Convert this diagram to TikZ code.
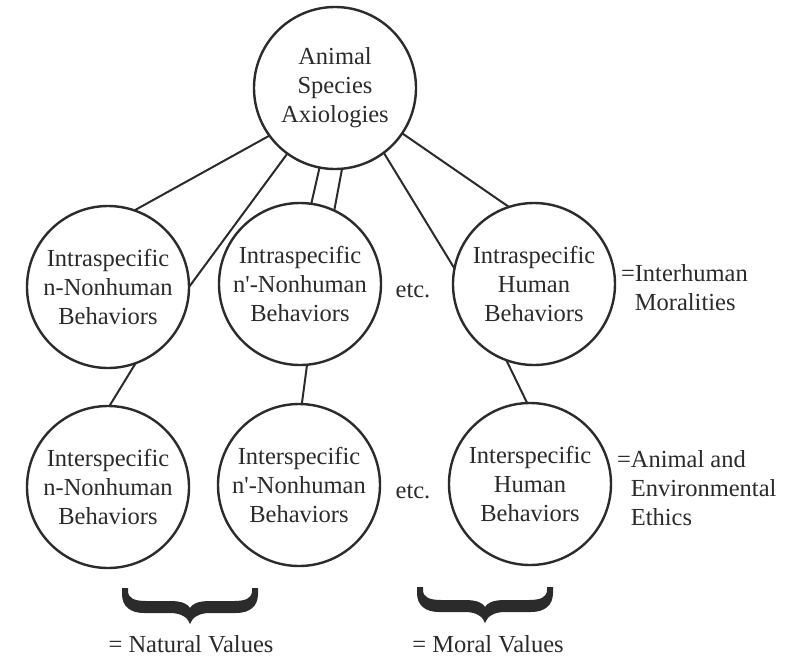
\documentclass[tikz,border=0pt]{standalone}
\usepackage{fontspec}
\setmainfont{Liberation Serif}
\definecolor{ink}{HTML}{2B2B2B}
\tikzset{
  bracepic/.pic={
    \fill[ink] (0,0) -- (0,6) .. controls (0,18) and (8,25) .. (22,25) -- (48,25)
      .. controls (60,25) and (66,30) .. (68,36)
      .. controls (70,30) and (76,25) .. (88,25) -- (114,25)
      .. controls (128,25) and (136,18) .. (136,6) -- (136,0) -- (130,0) -- (130,3)
      .. controls (130,10) and (124,13) .. (112,13) -- (88,13)
      .. controls (76,13) and (70,16) .. (68,20)
      .. controls (66,16) and (60,13) .. (48,13) -- (24,13)
      .. controls (12,13) and (6,10) .. (6,3) -- (6,0) -- cycle;
  }
}
\begin{document}
\begin{tikzpicture}[x=1pt,y=-1pt,
  bubble/.style={circle,draw=ink,line width=2.4pt,minimum size=162pt,inner sep=0pt,outer sep=0pt,
    align=center,text=ink,font=\fontsize{24.5}{29}\selectfont},
  link/.style={draw=ink,line width=2pt},
  lbl/.style={text=ink,font=\fontsize{24.5}{29}\selectfont,inner sep=0pt,outer sep=0pt}]
\useasboundingbox[fill=white] (0,0) rectangle (790,657);

\node[bubble] (top) at (335,88) {Animal\\Species\\Axiologies};
\node[bubble] (a1) at (108,287) {Intraspecific\\n-Nonhuman\\Behaviors};
\node[bubble] (b1) at (300,284) {Intraspecific\\n\textquotesingle-Nonhuman\\Behaviors};
\node[bubble] (c1) at (534,284) {Intraspecific\\Human\\Behaviors};
\node[bubble] (a2) at (108,487) {Interspecific\\n-Nonhuman\\Behaviors};
\node[bubble] (b2) at (299,485) {Interspecific\\n\textquotesingle-Nonhuman\\Behaviors};
\node[bubble] (c2) at (530,484) {Interspecific\\Human\\Behaviors};

\draw[link] (top.216) -- (a1.71);
\draw[link] (top.234) -- (a1.0);
\draw[link] (top.259) -- (b1.82);
\draw[link] (top.275) -- (b1.65);
\draw[link] (top.307) -- (c1.169);
\draw[link] (top.326) -- (c1.108);
\draw[link] (a1.290) -- (a2.89);
\draw[link] (b1.275) -- (b2.88);
\draw[link] (c1.250) -- (c2.92);

\node[lbl] (etc1) at (413,291) {etc.};
\node[lbl] (etc2) at (413,492) {etc.};
\node[lbl,anchor=west,align=left] (moral1) at (621,288) {=Interhuman\\\phantom{=}Moralities};
\node[lbl,anchor=west,align=left] (moral2) at (617,488) {=Animal and\\\phantom{=}Environmental\\\phantom{=}Ethics};

\pic at (122,588) {bracepic};
\pic at (417,587) {bracepic};
\node[lbl] (nat) at (191,644) {= Natural Values};
\node[lbl] (mor) at (488,644) {= Moral Values};
\end{tikzpicture}
\end{document}
